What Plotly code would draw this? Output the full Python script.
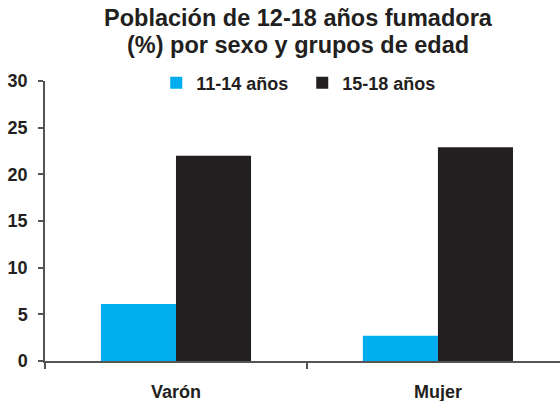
import plotly.graph_objects as go

categories = ["Varón", "Mujer"]
series_names = ["11-14 años", "15-18 años"]
values_11_14 = [6.1, 2.7]
values_15_18 = [22.0, 22.9]
y_ticks = [0, 5, 10, 15, 20, 25, 30]
title_lines = ["Población de 12-18 años fumadora", "(%) por sexo y grupos de edad"]

TXT = "#231F20"
FONT = "Liberation Sans, Arial, Helvetica, sans-serif"

fig = go.Figure()
fig.add_trace(go.Bar(x=categories, y=values_11_14, name=series_names[0],
                     marker=dict(color="#00AEEF", line=dict(width=0))))
fig.add_trace(go.Bar(x=categories, y=values_15_18, name=series_names[1],
                     marker=dict(color="#231F20", line=dict(width=0))))

fig.update_layout(
    width=560, height=401,
    paper_bgcolor="white", plot_bgcolor="white",
    font=dict(family=FONT, color=TXT, weight=700),
    margin=dict(l=45, r=0, t=81, b=40, autoexpand=False),
    barmode="group", bargap=0.427, bargroupgap=0,
    legend=dict(orientation="h", x=0.216, xanchor="left", y=0.993, yanchor="middle",
                font=dict(size=18, family=FONT, color=TXT, weight=700),
                bgcolor="rgba(0,0,0,0)", itemwidth=30, traceorder="normal",
                entrywidth=101, entrywidthmode="pixels"),
    showlegend=True,
)
for i, (line, ypos) in enumerate(zip(title_lines, [1.226, 1.130])):
    fig.add_annotation(text=line, xref="paper", yref="paper", x=0.492, y=ypos,
                       xanchor="center", yanchor="middle", showarrow=False,
                       font=dict(size=23.5, family=FONT, color=TXT, weight=700))

fig.update_xaxes(range=[-0.5, 1.466], showline=True, linecolor="#555555", linewidth=1.5,
                 ticks="outside", tickson="boundaries", ticklen=6, tickcolor="#555555",
                 tickwidth=1.5, showgrid=False, zeroline=False,
                 tickfont=dict(size=18, family=FONT, color=TXT, weight=700),
                 ticklabelstandoff=14, fixedrange=True)
fig.update_yaxes(range=[0, 30], tickvals=y_ticks, showline=True, linecolor="#555555",
                 linewidth=1.5, ticks="outside", ticklen=5, tickcolor="#555555", tickwidth=1.5,
                 showgrid=False, zeroline=False,
                 tickfont=dict(size=18, family=FONT, color=TXT, weight=700),
                 ticklabelstandoff=7, fixedrange=True)

fig.write_html("out.html", config={"displayModeBar": False},
               post_script="document.body.style.margin='0';document.body.style.overflow='hidden';")
